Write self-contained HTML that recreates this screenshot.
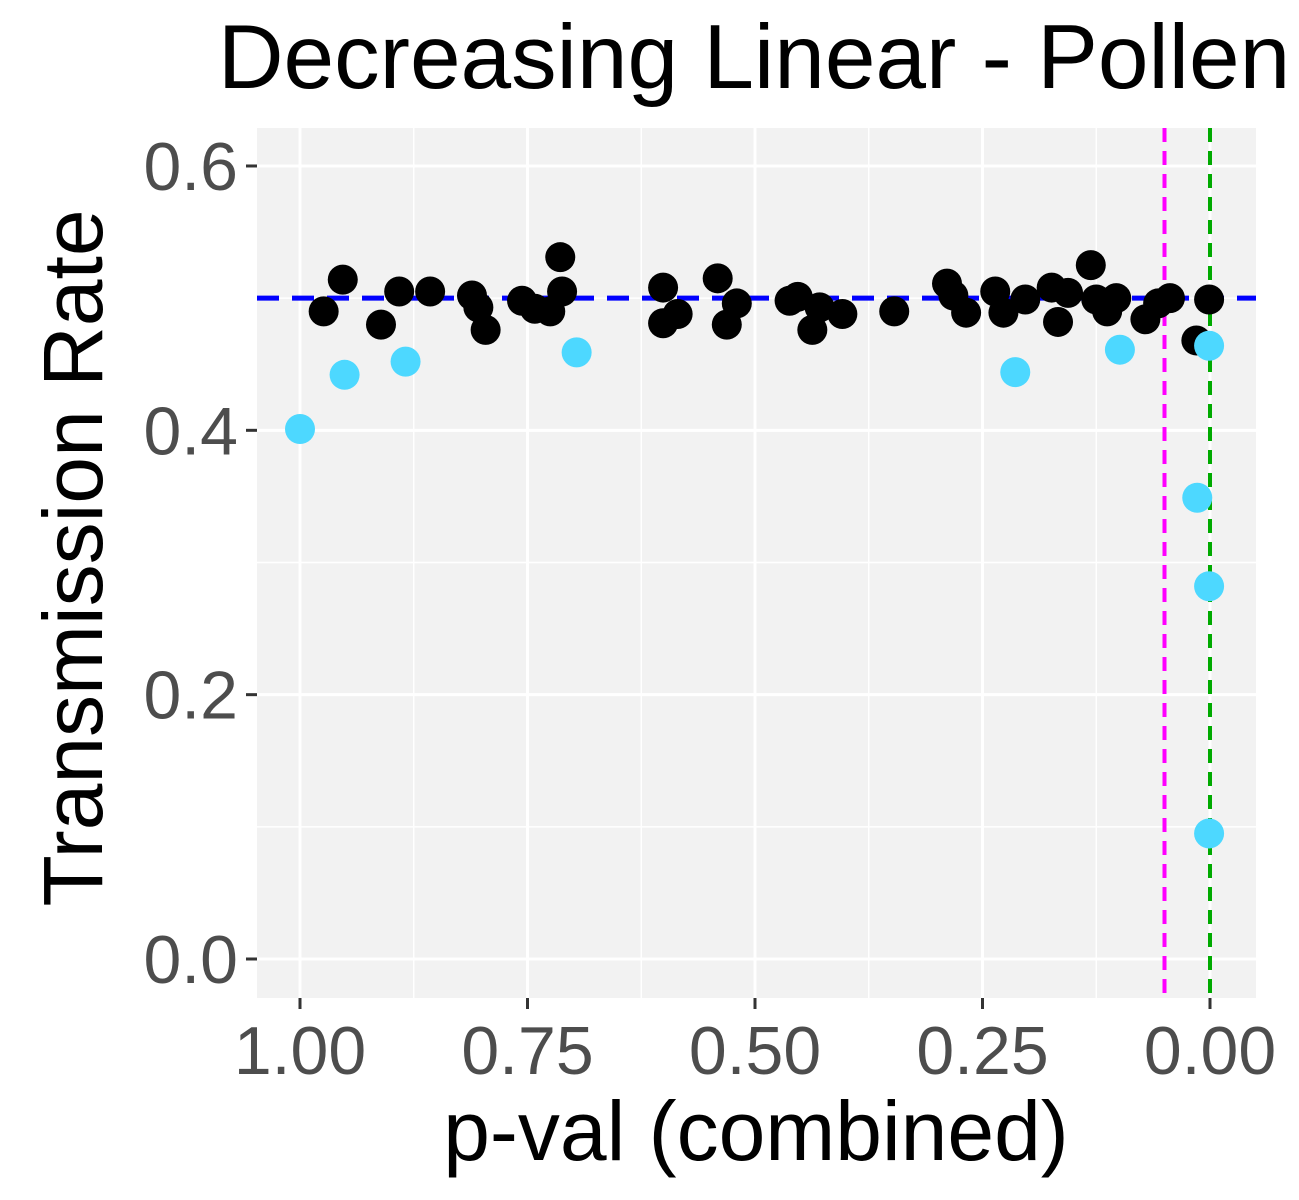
<!DOCTYPE html>
<html><head><meta charset="utf-8"><style>
body{margin:0;background:#fff;}
svg{display:block;font-family:"Liberation Sans",Arial,sans-serif;}
</style></head><body>
<svg id="chart" width="1299" height="1200" viewBox="0 0 1299 1200" xmlns="http://www.w3.org/2000/svg">
<rect x="0" y="0" width="1299" height="1200" fill="#fff"/>
<rect x="257" y="128" width="999" height="870" fill="#f2f2f2"/>
<g id="grid"></g>
<g id="refs"></g>
<g id="pts"></g>
<g id="axes"></g>
<text x="754" y="88" font-size="91" text-anchor="middle" fill="#000">Decreasing Linear - Pollen</text>
<text x="756" y="1160" font-size="84" text-anchor="middle" fill="#000">p-val (combined)</text>
<text transform="translate(102,558) rotate(-90)" font-size="84" text-anchor="middle" fill="#000">Transmission Rate</text>
</svg>
<script>
const blackP=[0.974,0.953,0.911,0.891,0.857,0.811,0.804,0.796,0.756,0.742,0.725,0.714,0.712,0.601,0.601,0.585,0.541,0.531,0.520,0.462,0.453,0.437,0.429,0.404,0.347,0.289,0.282,0.268,0.236,0.227,0.203,0.174,0.167,0.156,0.131,0.125,0.113,0.103,0.071,0.057,0.044,0.015,0.001];
const blackR=[0.490,0.514,0.480,0.505,0.505,0.502,0.493,0.476,0.498,0.492,0.490,0.531,0.505,0.508,0.481,0.488,0.515,0.480,0.496,0.498,0.501,0.476,0.493,0.488,0.490,0.511,0.502,0.489,0.505,0.489,0.499,0.508,0.482,0.504,0.525,0.499,0.490,0.500,0.484,0.496,0.500,0.468,0.499];
const cyanP=[1.000,0.951,0.884,0.696,0.214,0.099,0.014,0.001,0.001,0.001];
const cyanR=[0.401,0.442,0.452,0.459,0.444,0.461,0.349,0.464,0.282,0.095];
const xTicks=[1.00,0.75,0.50,0.25,0.00];
const xTickLabels=["1.00","0.75","0.50","0.25","0.00"];
const yTicks=[0.0,0.2,0.4,0.6];
const yTickLabels=["0.0","0.2","0.4","0.6"];
const hLine=[0.5];
const vLines=[0.05,0.0];

const NS="http://www.w3.org/2000/svg";
const X=p=>1210-p*910;
const Y=r=>959-r*1321.7;
function mk(parent,tag,attrs){const e=document.createElementNS(NS,tag);for(const k in attrs)e.setAttribute(k,attrs[k]);document.getElementById(parent).appendChild(e);return e;}
for(let i=0;i<xTicks.length-1;i++){const m=(xTicks[i]+xTicks[i+1])/2;
const g=mk('grid','line',{x1:X(m),x2:X(m),y1:128,y2:998,stroke:'#fff','stroke-width':1.5});

}
for(let i=0;i<yTicks.length-1;i++){const m=(yTicks[i]+yTicks[i+1])/2;
const g=mk('grid','line',{x1:257,x2:1256,y1:Y(m),y2:Y(m),stroke:'#fff','stroke-width':1.5});

}
xTicks.forEach((t,i)=>{
const g=mk('grid','line',{x1:X(t),x2:X(t),y1:128,y2:998,stroke:'#fff','stroke-width':3});


const tk=mk('axes','line',{x1:X(t),x2:X(t),y1:998,y2:1009,stroke:'#333','stroke-width':3});


const l=mk('axes','text',{x:X(t),y:1074,'font-size':68,'text-anchor':'middle',fill:'#4d4d4d'});
l.textContent=xTickLabels[i];

});
yTicks.forEach((t,i)=>{
const g=mk('grid','line',{x1:257,x2:1256,y1:Y(t),y2:Y(t),stroke:'#fff','stroke-width':3});


const tk=mk('axes','line',{x1:246,x2:257,y1:Y(t),y2:Y(t),stroke:'#333','stroke-width':3});


const l=mk('axes','text',{x:238,y:Y(t)+24,'font-size':68,'text-anchor':'end',fill:'#4d4d4d'});
l.textContent=yTickLabels[i];

});
hLine.forEach(h=>{const l=mk('refs','line',{x1:257,x2:1256,y1:Y(h),y2:Y(h),stroke:'#0000ff','stroke-width':5,'stroke-dasharray':'22,13'});

});
const vc=['#ff00ff','#00aa00'];
vLines.forEach((v,i)=>{const l=mk('refs','line',{x1:X(v),x2:X(v),y1:128,y2:998,stroke:vc[i],'stroke-width':4,'stroke-dasharray':'14,9'});

});
blackP.forEach((p,i)=>{const c=mk('pts','circle',{cx:X(p),cy:Y(blackR[i]),r:15,fill:'#000'});

});
cyanP.forEach((p,i)=>{const c=mk('pts','circle',{cx:X(p),cy:Y(cyanR[i]),r:15,fill:'#4dd8ff'});

});
</script>
</body></html>
